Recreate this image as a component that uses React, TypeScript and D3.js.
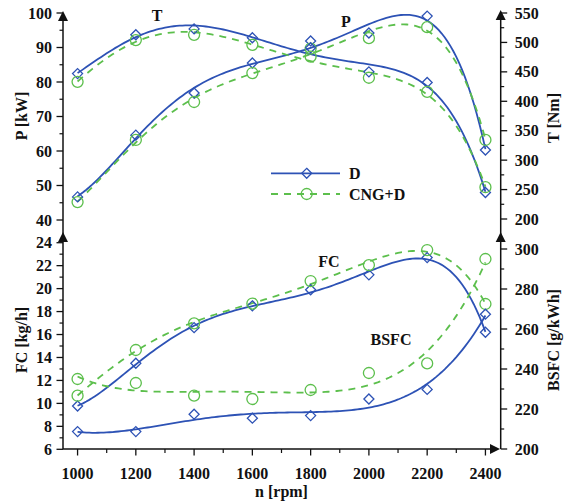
import React from "react";
import * as d3 from "d3";

const rpm = [1000, 1200, 1400, 1600, 1800, 2000, 2200, 2400];
const P_D = [46.7, 64.6, 76.8, 85.5, 91.9, 94.2, 99.1, 60.3];
const P_CNG = [45.2, 63.2, 74.2, 82.6, 89.7, 92.7, 95.9, 63.2];
const T_D = [447, 513, 523, 508, 491, 450, 432, 245];
const T_CNG = [433, 504, 513, 496, 476, 440, 416, 254];
const FC_D = [9.77, 13.5, 16.6, 18.5, 19.9, 21.2, 22.7, 16.2];
const FC_CNG = [10.67, 14.65, 16.97, 18.7, 20.66, 22.05, 23.36, 18.66];
const BSFC_D = [208.7, 208.7, 217.4, 215.4, 216.7, 225, 229.8, 267.4];
const BSFC_CNG = [235, 233, 226.7, 225, 229.5, 238, 242.8, 295];

const xTicks = [1000, 1200, 1400, 1600, 1800, 2000, 2200, 2400];
const pTicks = [40, 50, 60, 70, 80, 90, 100];
const tTicks = [200, 250, 300, 350, 400, 450, 500, 550];
const fcTicks = [6, 8, 10, 12, 14, 16, 18, 20, 22, 24];
const bsfcTicks = [200, 220, 240, 260, 280, 300];

const BLUE = "#2d52b5";
const GREEN = "#5cbf4c";
const FONT = "'Liberation Serif', 'Times New Roman', serif";

const x = d3.scaleLinear().domain([950, 2450]).range([63, 500]);
const yP = d3.scaleLinear().domain([40, 100]).range([220, 13]);
const yT = d3.scaleLinear().domain([200, 550]).range([219, 13]);
const yFC = d3.scaleLinear().domain([6, 24]).range([449.3, 242.7]);
const yB = d3.scaleLinear().domain([200, 300]).range([449, 249]);

function polyFit(xs: number[], ys: number[], deg: number) {
  const n = deg + 1;
  const t = xs.map((v) => (v - 1700) / 700);
  const A: number[][] = Array.from({ length: n }, () => new Array(n + 1).fill(0));
  for (let i = 0; i < n; i++) {
    for (let j = 0; j < n; j++) {
      A[i][j] = d3.sum(t, (v) => Math.pow(v, i + j));
    }
    A[i][n] = d3.sum(t, (v, k) => ys[k] * Math.pow(v, i));
  }
  for (let c = 0; c < n; c++) {
    let p = c;
    for (let r = c + 1; r < n; r++) if (Math.abs(A[r][c]) > Math.abs(A[p][c])) p = r;
    [A[c], A[p]] = [A[p], A[c]];
    for (let r = 0; r < n; r++) {
      if (r === c) continue;
      const f = A[r][c] / A[c][c];
      for (let k = c; k <= n; k++) A[r][k] -= f * A[c][k];
    }
  }
  const coef = A.map((row, i) => row[n] / row[i]);
  return (xv: number) => {
    const tv = (xv - 1700) / 700;
    return coef.reduce((s, c, i) => s + c * Math.pow(tv, i), 0);
  };
}

type Series = {
  vals: number[];
  y: d3.ScaleLinear<number, number>;
  kind: "D" | "CNG";
  fit: number;
};

const series: Series[] = [
  { vals: P_D, y: yP, kind: "D", fit: 5 },
  { vals: P_CNG, y: yP, kind: "CNG", fit: 5 },
  { vals: T_D, y: yT, kind: "D", fit: 5 },
  { vals: T_CNG, y: yT, kind: "CNG", fit: 5 },
  { vals: FC_D, y: yFC, kind: "D", fit: 5 },
  { vals: FC_CNG, y: yFC, kind: "CNG", fit: 5 },
  { vals: BSFC_D, y: yB, kind: "D", fit: 4 },
  { vals: BSFC_CNG, y: yB, kind: "CNG", fit: 4 },
];

function pathFor(s: Series) {
  const f = polyFit(rpm, s.vals, s.fit);
  const xs = d3.range(1000, 2400.1, 10);
  return d3
    .line<number>()
    .x((v) => x(v))
    .y((v) => s.y(f(v)))(xs) as string;
}

function Diamond({ cx, cy }: { cx: number; cy: number }) {
  const r = 5;
  return (
    <path
      d={`M${cx},${cy - r}L${cx + r},${cy}L${cx},${cy + r}L${cx - r},${cy}Z`}
      fill="none"
      stroke={BLUE}
      strokeWidth={1.3}
    />
  );
}

function Circ({ cx, cy }: { cx: number; cy: number }) {
  return <circle cx={cx} cy={cy} r={5.5} fill="none" stroke={GREEN} strokeWidth={1.3} />;
}

function range(a: number, b: number, s: number) {
  return d3.range(a, b + s / 2, s);
}

export default function App() {
  const LX = 63;
  const RX = 500.7;
  const BY = 449;
  const txt = { fontFamily: FONT, fontWeight: 700, fontSize: 16, fill: "#111" } as const;

  const leftTicks = (
    scale: d3.ScaleLinear<number, number>,
    majors: number[],
    minors: number[]
  ) => (
    <g>
      {minors.map((v) => (
        <line key={"m" + v} x1={LX - 3.5} x2={LX} y1={scale(v)} y2={scale(v)} stroke="#111" strokeWidth={1.2} />
      ))}
      {majors.map((v) => (
        <g key={"M" + v}>
          <line x1={LX - 6.5} x2={LX} y1={scale(v)} y2={scale(v)} stroke="#111" strokeWidth={1.3} />
          <text x={LX - 11} y={scale(v)} dy="0.35em" textAnchor="end" {...txt}>
            {v}
          </text>
        </g>
      ))}
    </g>
  );
  const rightTicks = (
    scale: d3.ScaleLinear<number, number>,
    majors: number[],
    minors: number[]
  ) => (
    <g>
      {minors.map((v) => (
        <line key={"m" + v} x1={RX} x2={RX + 3.5} y1={scale(v)} y2={scale(v)} stroke="#111" strokeWidth={1.2} />
      ))}
      {majors.map((v) => (
        <g key={"M" + v}>
          <line x1={RX} x2={RX + 6.5} y1={scale(v)} y2={scale(v)} stroke="#111" strokeWidth={1.3} />
          <text x={RX + 14} y={scale(v)} dy="0.35em" textAnchor="start" {...txt}>
            {v}
          </text>
        </g>
      ))}
    </g>
  );

  const upArrow = (ax: number, ay: number) => (
    <path d={`M${ax},${ay}L${ax + 5},${ay + 10}L${ax - 5},${ay + 10}Z`} fill="#111" />
  );

  return (
    <svg
      width={564}
      height={504}
      style={{ position: "absolute", left: 0, top: 0, background: "white" }}
    >
      <rect width={564} height={504} fill="white" />
      <line x1={LX} x2={LX} y1={14} y2={BY} stroke="#111" strokeWidth={1.5} />
      <line x1={RX} x2={RX} y1={13} y2={BY} stroke="#111" strokeWidth={1.5} />
      <line x1={LX} x2={492} y1={BY} y2={BY} stroke="#111" strokeWidth={1.5} />
      {upArrow(LX, 11)}
      {upArrow(LX, 232)}
      {upArrow(RX, 10)}
      {upArrow(RX, 232)}
      <path d={`M500,${BY}L490,${BY - 5}L490,${BY + 5}Z`} fill="#111" />

      {leftTicks(yP, pTicks, range(45, 95, 10))}
      {rightTicks(yT, tTicks, range(225, 525, 50))}
      {leftTicks(yFC, fcTicks, range(7, 23, 2))}
      {rightTicks(yB, bsfcTicks, range(210, 290, 20))}

      {range(1100, 2300, 200).map((v) => (
        <line key={"xm" + v} x1={x(v)} x2={x(v)} y1={BY} y2={BY + 4} stroke="#111" strokeWidth={1.2} />
      ))}
      {xTicks.map((v) => (
        <g key={"x" + v}>
          <line x1={x(v)} x2={x(v)} y1={BY} y2={BY + 6.5} stroke="#111" strokeWidth={1.3} />
          <text x={x(v)} y={479} textAnchor="middle" {...txt}>
            {v}
          </text>
        </g>
      ))}
      <text x={281.5} y={497} textAnchor="middle" {...txt}>
        n [rpm]
      </text>

      <text transform="translate(27,116) rotate(-90)" textAnchor="middle" {...txt}>
        P [kW]
      </text>
      <text transform="translate(27,340) rotate(-90)" textAnchor="middle" {...txt}>
        FC [kg/h]
      </text>
      <text transform="translate(559,118) rotate(-90)" textAnchor="middle" {...txt}>
        T [Nm]
      </text>
      <text transform="translate(559,340) rotate(-90)" textAnchor="middle" {...txt}>
        BSFC [g/kWh]
      </text>

      {series.map((s, i) => (
        <path
          key={"c" + i}
          d={pathFor(s)}
          fill="none"
          stroke={s.kind === "D" ? BLUE : GREEN}
          strokeWidth={1.8}
          strokeDasharray={s.kind === "D" ? undefined : "7,6"}
        />
      ))}
      {series.map((s, i) =>
        s.vals.map((v, j) =>
          s.kind === "D" ? (
            <Diamond key={`d${i}-${j}`} cx={x(rpm[j])} cy={s.y(v)} />
          ) : (
            <Circ key={`o${i}-${j}`} cx={x(rpm[j])} cy={s.y(v)} />
          )
        )
      )}

      <text x={157} y={21} textAnchor="middle" {...txt}>T</text>
      <text x={346} y={27} textAnchor="middle" {...txt}>P</text>
      <text x={329} y={267} textAnchor="middle" {...txt}>FC</text>
      <text x={391} y={345} textAnchor="middle" {...txt}>BSFC</text>

      <line x1={271} x2={340} y1={173.3} y2={173.3} stroke={BLUE} strokeWidth={1.8} />
      <Diamond cx={306.7} cy={173.3} />
      <text x={349} y={179} {...txt}>D</text>
      <line x1={271} x2={340} y1={194} y2={194} stroke={GREEN} strokeWidth={1.8} strokeDasharray="7,6" />
      <Circ cx={306.7} cy={194} />
      <text x={349} y={200} {...txt}>CNG+D</text>
    </svg>
  );
}
